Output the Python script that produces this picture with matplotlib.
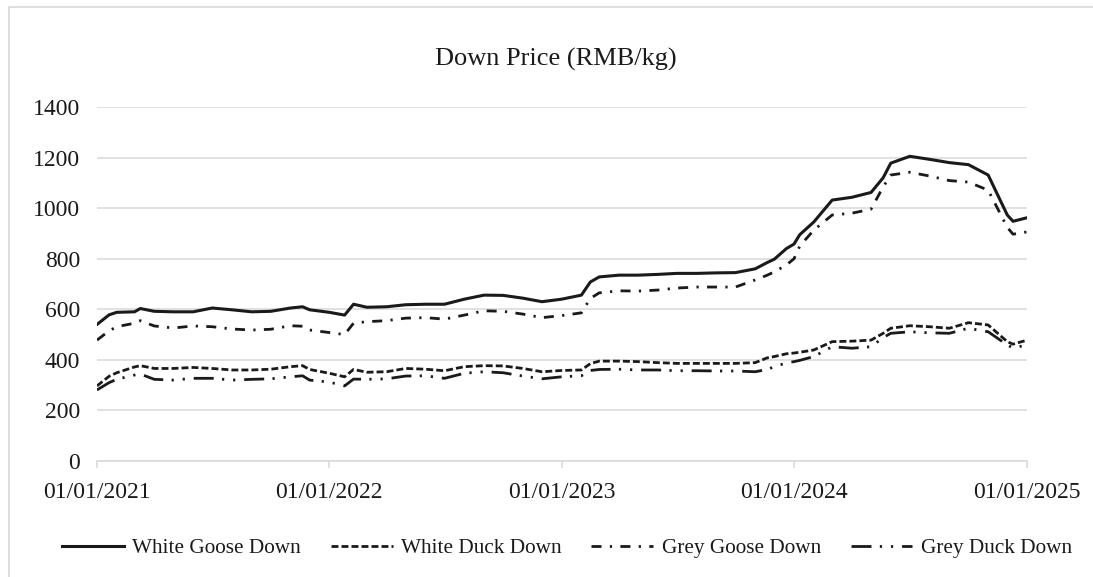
import pandas as pd
import matplotlib
matplotlib.use("Agg")
import matplotlib.pyplot as plt
import matplotlib.dates as mdates
from matplotlib.patches import Rectangle

plt.rcParams['font.family'] = ['Liberation Serif', 'DejaVu Serif']

# sample dates (mostly monthly, a few extra where the price jumps)
dates = ["2021-01-01", "2021-01-20", "2021-02-01", "2021-03-01", "2021-03-10", "2021-04-01",
         "2021-05-01", "2021-06-01", "2021-07-01", "2021-08-01", "2021-09-01", "2021-10-01",
         "2021-11-01", "2021-11-20", "2021-12-01", "2022-01-01", "2022-01-25", "2022-02-08",
         "2022-03-01", "2022-04-01", "2022-05-01", "2022-06-01", "2022-07-01", "2022-08-01",
         "2022-09-01", "2022-10-01", "2022-11-01", "2022-12-01", "2023-01-01", "2023-02-01",
         "2023-02-15", "2023-03-01", "2023-04-01", "2023-05-01", "2023-06-01", "2023-07-01",
         "2023-08-01", "2023-09-01", "2023-10-01", "2023-11-01", "2023-11-20", "2023-12-01",
         "2023-12-20", "2024-01-01", "2024-01-10", "2024-02-01", "2024-03-01", "2024-04-01",
         "2024-05-01", "2024-05-20", "2024-06-01", "2024-07-01", "2024-08-01", "2024-09-01",
         "2024-10-01", "2024-11-01", "2024-12-01", "2024-12-10", "2025-01-01"]

white_goose = [540, 578, 588, 590, 603, 592,
               590, 590, 605, 598, 590, 592,
               605, 610, 598, 588, 577, 620,
               608, 610, 618, 620, 620, 640,
               656, 655, 644, 630, 640, 656,
               708, 728, 735, 735, 738, 742,
               742, 744, 745, 760, 785, 798,
               840, 858, 895, 945, 1032, 1043,
               1062, 1120, 1178, 1205, 1193, 1180,
               1172, 1131, 973, 948, 962]

white_duck = [297, 335, 349, 372, 377, 366,
              366, 370, 366, 360, 360, 363,
              373, 377, 362, 347, 333, 362,
              351, 353, 366, 363, 357, 373,
              377, 376, 366, 353, 358, 360,
              385, 395, 395, 393, 389, 386,
              386, 386, 386, 389, 408, 413,
              424, 427, 430, 439, 472, 474,
              478, 505, 525, 535, 531, 525,
              547, 538, 472, 462, 478]

grey_goose = [478, 515, 531, 545, 555, 534,
              526, 534, 531, 522, 518, 521,
              535, 533, 518, 508, 500, 545,
              551, 555, 565, 567, 561, 577,
              594, 592, 581, 567, 575, 586,
              643, 665, 673, 672, 676, 684,
              688, 688, 688, 716, 735, 748,
              775, 800, 850, 913, 973, 980,
              996, 1084, 1131, 1142, 1127, 1109,
              1103, 1071, 924, 897, 906]

grey_duck = [281, 310, 323, 340, 344, 323,
             320, 327, 327, 320, 323, 325,
             333, 337, 320, 312, 297, 324,
             323, 325, 336, 337, 327, 347,
             353, 349, 336, 325, 333, 337,
             358, 362, 363, 360, 360, 357,
             357, 356, 356, 353, 362, 373,
             388, 393, 398, 413, 452, 446,
             452, 488, 505, 511, 507, 505,
             525, 511, 459, 447, 459]

x = pd.to_datetime(dates)
grid_col = '#d9d9d9'
txt_col = '#1a1a1a'

fig = plt.figure(figsize=(10.93, 5.77), dpi=100)
ax = fig.add_axes([97/1093, 1 - 461/577, 930/1093, 354/577])

ax.plot(x, white_goose, color='#1a1a1a', lw=2.2, label='White Goose Down')
ax.plot(x, white_duck, color='#1a1a1a', lw=2.0, linestyle=(0, (2.5, 1.1)), label='White Duck Down')
ax.plot(x, grey_goose, color='#1a1a1a', lw=2.0, linestyle=(0, (3.6, 3.0, 0.8, 3.0)), label='Grey Goose Down')
ax.plot(x, grey_duck, color='#1a1a1a', lw=2.0, linestyle=(0, (7.2, 3.0, 0.8, 3.2, 0.8, 3.2)), label='Grey Duck Down')

ax.set_xlim(pd.Timestamp("2021-01-01"), pd.Timestamp("2025-01-01"))
ax.set_ylim(0, 1400)
ax.set_yticks(range(0, 1401, 200))
ax.set_xticks(pd.to_datetime(["2021-01-01", "2022-01-01", "2023-01-01", "2024-01-01", "2025-01-01"]))
ax.xaxis.set_major_formatter(mdates.DateFormatter('%d/%m/%Y'))

ax.grid(axis='y', color=grid_col, lw=1.1)
ax.set_axisbelow(True)
for s in ['top', 'right', 'left']:
    ax.spines[s].set_visible(False)
ax.spines['bottom'].set_color(grid_col)
ax.spines['bottom'].set_linewidth(1.1)
ax.tick_params(axis='x', direction='out', length=5, width=1.1, color=grid_col,
               labelsize=17, labelcolor=txt_col, pad=10)
ax.tick_params(axis='y', length=0, labelsize=17, labelcolor=txt_col, pad=12)

fig.text(556/1093, 1 - 59/577, 'Down Price (RMB/kg)', ha='center', va='center',
         fontsize=19, color=txt_col)

fig.legend(loc='center', bbox_to_anchor=(567/1093, 1 - 548/577), ncol=4, frameon=False,
           fontsize=15.3, handlelength=2.9, handletextpad=0.4, columnspacing=1.4,
           labelcolor=txt_col)

fig.patches.append(Rectangle((9/1093, -0.1), 1.2, 1.1 - 7/577, transform=fig.transFigure,
                             fill=False, edgecolor=grid_col, lw=1.2))

fig.savefig('out.png', dpi=100)
